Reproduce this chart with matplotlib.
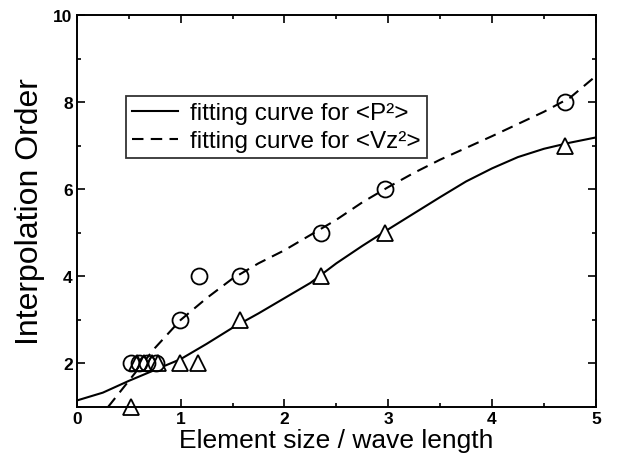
import matplotlib
matplotlib.use('Agg')
import matplotlib.pyplot as plt
from matplotlib.ticker import MultipleLocator

plt.rcParams['font.family'] = ['Liberation Sans', 'DejaVu Sans']

# measured points
p_x = [0.52, 0.58, 0.65, 0.72, 0.78, 0.99, 1.17, 1.57, 2.35, 2.97, 4.70]
p_y = [1, 2, 2, 2, 2, 2, 2, 3, 4, 5, 7]
vz_x = [0.52, 0.60, 0.68, 0.76, 0.99, 1.18, 1.57, 2.35, 2.97, 4.70]
vz_y = [2, 2, 2, 2, 3, 4, 4, 5, 6, 8]

# fitting curves
fit_p_x = [0, 0.25, 0.5, 0.75, 1.0, 1.25, 1.5, 1.75, 2.0, 2.25, 2.5, 2.75,
           3.0, 3.25, 3.5, 3.75, 4.0, 4.25, 4.5, 4.75, 5.0]
fit_p_y = [1.15, 1.33, 1.6, 1.85, 2.1, 2.45, 2.82, 3.15, 3.5, 3.85, 4.3, 4.7,
           5.08, 5.45, 5.82, 6.18, 6.48, 6.74, 6.93, 7.07, 7.19]
fit_vz_x = [0.3, 0.5, 0.75, 1.0, 1.25, 1.5, 1.75, 2.0, 2.25, 2.5, 2.75,
            3.0, 3.25, 3.5, 3.75, 4.0, 4.25, 4.5, 4.75, 5.0]
fit_vz_y = [1.0, 1.6, 2.35, 3.0, 3.5, 3.95, 4.3, 4.6, 4.95, 5.3, 5.7,
            6.05, 6.38, 6.68, 6.95, 7.22, 7.5, 7.78, 8.1, 8.6]

fig = plt.figure(figsize=(6.2, 4.6), dpi=100)
ax = fig.add_axes([0.124, 0.113, 0.837, 0.852])

ax.plot(fit_p_x, fit_p_y, color='black', lw=1.5, label='fitting curve for <P²>')
ax.plot(fit_vz_x, fit_vz_y, color='black', lw=1.5, ls=(0, (5.5, 3.5)),
        label='fitting curve for <Vz²>')
ax.plot(p_x, p_y, ls='none', marker='^', ms=11, mfc='white', mec='black',
        mew=1.3, clip_on=False)
ax.plot(vz_x, vz_y, ls='none', marker='o', ms=11.5, mfc='none', mec='black',
        mew=1.3, clip_on=False)

ax.set_xlim(0, 5)
ax.set_ylim(1, 10)
ax.xaxis.set_major_locator(MultipleLocator(1))
ax.xaxis.set_minor_locator(MultipleLocator(0.5))
ax.yaxis.set_major_locator(MultipleLocator(2))
ax.yaxis.set_minor_locator(MultipleLocator(1))
ax.tick_params(which='both', direction='in', top=True, right=True, width=1.2)
ax.tick_params(which='major', length=6, labelsize=12.5, pad=3)
ax.tick_params(which='minor', length=3)
for lab in ax.get_xticklabels() + ax.get_yticklabels():
    lab.set_fontweight('bold')
for s in ax.spines.values():
    s.set_linewidth(1.4)

ax.set_xlabel('Element size / wave length', fontsize=19, labelpad=1)
ax.set_ylabel('Interpolation Order', fontsize=23, labelpad=6)

leg = ax.legend(loc='upper left', bbox_to_anchor=(0.094, 0.793), fontsize=17.5,
                frameon=True, fancybox=False, edgecolor='black', handlelength=1.9,
                borderpad=0.25, borderaxespad=0, labelspacing=0.25,
                handletextpad=0.5)
leg.get_frame().set_linewidth(1.3)

fig.savefig('out.png', dpi=100)
